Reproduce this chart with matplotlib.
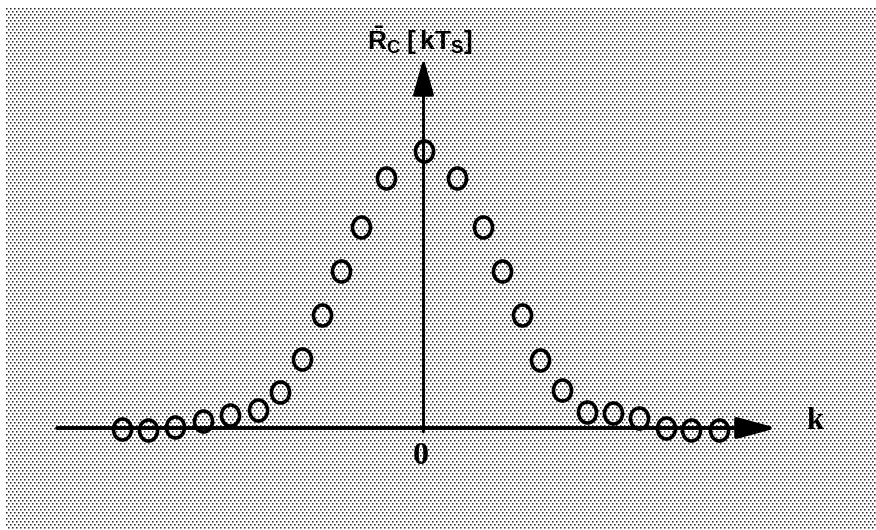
import numpy as np
import matplotlib
matplotlib.use("Agg")
import matplotlib.pyplot as plt
from matplotlib.path import Path
from matplotlib.transforms import Affine2D
from matplotlib.patches import FancyArrowPatch

# Sampled autocorrelation R_C[kT_S] (normalised to the k = 0 value)
k_pos = [-11.17, -10.20, -9.20, -8.17, -7.17, -6.13, -5.31, -4.50, -3.76,
         -3.06, -2.31, -1.39, 0.00, 1.24, 2.20, 2.91, 3.65, 4.31, 5.13,
         6.06, 7.02, 7.98, 8.98, 9.91, 10.94]
r_vals = [-0.004, -0.007, 0.004, 0.025, 0.047, 0.065, 0.130, 0.249, 0.408,
          0.567, 0.726, 0.903, 1.000, 0.903, 0.726, 0.567, 0.408, 0.245,
          0.137, 0.058, 0.054, 0.036, 0.000, -0.007, -0.007]

x_axis_span = (-13.57, 13.09)
y_axis_span = (-0.014, 1.336)
origin_label = "0"
x_label = "k"
y_label = r"$\bar{R}_C\;[\,kT_S]$"

plt.rcParams["mathtext.fontset"] = "custom"
plt.rcParams["mathtext.rm"] = "Liberation Sans:bold"
plt.rcParams["mathtext.it"] = "Liberation Sans:bold"
plt.rcParams["mathtext.bf"] = "Liberation Sans:bold"

W, H = 876, 530
fig = plt.figure(figsize=(W / 100, H / 100), dpi=100)
fig.patch.set_facecolor("white")

# Halftone screen behind the drawing
left_pad, top_pad = 6, 8
hh, ww = H - top_pad, W - left_pad
yy, xx = np.mgrid[0:hh, 0:ww]
dots = (yy % 3 == 0) & ((xx - 2 * (yy // 3)) % 4 == 0)
screen = np.ones((hh, ww))
screen -= 0.85 * dots
screen[:, 1:] -= 0.45 * dots[:, :-1]
screen[1:, :] -= 0.45 * dots[:-1, :]
screen[1:, 1:] -= 0.25 * dots[:-1, :-1]
screen = np.clip(screen, 0, 1)
fig.figimage(screen, xo=left_pad, yo=0, origin="upper", cmap="gray",
             vmin=0, vmax=1, zorder=-1)

ax = fig.add_axes([0, 0, 1, 1])
ax.set_facecolor("none")
ax.set_xlim(-15.685, 16.759)
ax.set_ylim(-0.3682, 1.5451)
ax.axis("off")

# Axes with arrow heads
ax.add_patch(FancyArrowPatch((x_axis_span[0], 0), (x_axis_span[1], 0),
                             arrowstyle="-|>,head_length=24,head_width=6.5",
                             mutation_scale=1, lw=2.8, color="black",
                             shrinkA=0, shrinkB=0, zorder=2))
ax.add_patch(FancyArrowPatch((0, y_axis_span[0]), (0, y_axis_span[1]),
                             arrowstyle="-|>,head_length=23,head_width=6.5",
                             mutation_scale=1, lw=2.1, color="black",
                             shrinkA=0, shrinkB=0, zorder=2))

# Slightly tall open circles
ellipse = Path.unit_circle().transformed(Affine2D().scale(0.86, 1.0))
ax.plot(k_pos, r_vals, linestyle="none", marker=ellipse, markersize=15.1,
        markerfacecolor="none", markeredgecolor="black",
        markeredgewidth=2.6, zorder=3)

ax.annotate(origin_label, xy=(0, 0), xytext=(-2.2, -20.5),
            textcoords="offset points", ha="center", va="center",
            fontsize=23, fontweight="bold", family="Liberation Serif")
ax.annotate(x_label, xy=(x_axis_span[1], 0), xytext=(27.5, 4.5),
            textcoords="offset points", ha="center", va="center",
            fontsize=22, fontweight="bold", family="Liberation Serif")
ax.annotate(y_label, xy=(0, y_axis_span[1]), xytext=(-40.5, 5.8),
            textcoords="offset points", ha="left", va="baseline",
            fontsize=19)

fig.savefig("out.png", dpi=100)
